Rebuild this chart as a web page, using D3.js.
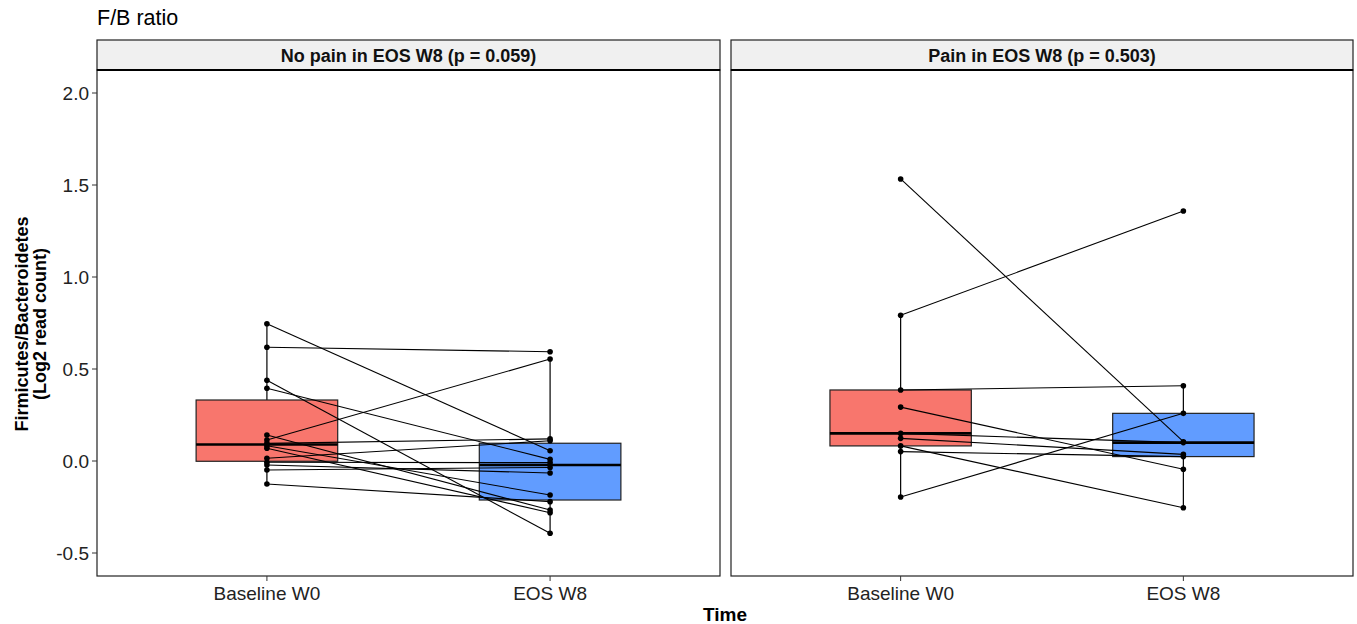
<!DOCTYPE html>
<html><head><meta charset="utf-8">
<script src="https://cdn.jsdelivr.net/npm/d3@7"></script>
<style>body{margin:0;background:#fff;} text{font-family:Arial,"Liberation Sans",sans-serif;}</style>
</head><body>
<svg id="chart" width="1357" height="624"></svg>
<script>
const timeLabels = ["Baseline W0", "EOS W8"];
const panelTitles = ["No pain in EOS W8 (p = 0.059)", "Pain in EOS W8 (p = 0.503)"];
const yTicks = [-0.5, 0.0, 0.5, 1.0, 1.5, 2.0];
// paired values (baseline, EOS W8) per subject
const noPainBaseline = [0.746, 0.618, 0.439, 0.395, 0.141, 0.114, 0.096, 0.083, 0.069, 0.015, -0.007, -0.022, -0.049, -0.125];
const noPainEOS      = [0.056, 0.594, -0.393, 0.009, -0.266, 0.554, 0.12, -0.185, -0.281, 0.11, -0.009, -0.065, -0.035, -0.221];
const painBaseline   = [1.533, 0.792, 0.386, 0.293, 0.150, 0.123, 0.082, 0.051, -0.196];
const painEOS        = [0.105, 1.359, 0.409, -0.045, 0.100, 0.036, -0.254, 0.024, 0.259];
const fillColors = ["#F8766D", "#619CFF"];

const svg = d3.select("#chart");
const plotTop = 70, plotBottom = 576;
const panels = [
  {x0: 97, x1: 720, title: panelTitles[0], base: noPainBaseline, eos: noPainEOS},
  {x0: 731, x1: 1353, title: panelTitles[1], base: painBaseline, eos: painEOS}
];
const y = d3.scaleLinear().domain([-0.625, 2.125]).range([plotBottom, plotTop]);

svg.append("text").attr("x", 97).attr("y", 25).attr("font-size", 21.5).attr("fill", "#000").text("F/B ratio");

function boxStats(vals) {
  const s = vals.slice().sort(d3.ascending);
  const q1 = d3.quantileSorted(s, 0.25), med = d3.quantileSorted(s, 0.5), q3 = d3.quantileSorted(s, 0.75);
  const iqr = q3 - q1;
  const lo = d3.min(s.filter(v => v >= q1 - 1.5 * iqr));
  const hi = d3.max(s.filter(v => v <= q3 + 1.5 * iqr));
  return {q1, med, q3, lo, hi};
}

panels.forEach((p, pi) => {
  const unit = (p.x1 - p.x0) / 2.2;
  const x = d3.scalePoint().domain(timeLabels).range([p.x0 + 0.6 * unit, p.x0 + 1.6 * unit]);
  const xpos = i => x(timeLabels[i]);
  const g = svg.append("g");
  // strip
  g.append("rect").attr("x", p.x0).attr("y", 40).attr("width", p.x1 - p.x0).attr("height", plotTop - 40)
    .attr("fill", "#f0f0f0").attr("stroke", "#222").attr("stroke-width", 1.2);
  g.append("text").attr("x", (p.x0 + p.x1) / 2).attr("y", 62).attr("text-anchor", "middle")
    .attr("font-size", 18).attr("font-weight", "bold").attr("fill", "#111").text(p.title);
  // boxes
  [p.base, p.eos].forEach((vals, i) => {
    const st = boxStats(vals);
    const cx = xpos(i), hw = unit * 0.25;
    g.append("line").attr("x1", cx).attr("x2", cx).attr("y1", y(st.q3)).attr("y2", y(st.hi)).attr("stroke", "#000").attr("stroke-width", 1.2);
    g.append("line").attr("x1", cx).attr("x2", cx).attr("y1", y(st.q1)).attr("y2", y(st.lo)).attr("stroke", "#000").attr("stroke-width", 1.2);
    g.append("rect").attr("x", cx - hw).attr("y", y(st.q3)).attr("width", 2 * hw).attr("height", y(st.q1) - y(st.q3))
      .attr("fill", fillColors[i]).attr("stroke", "#222").attr("stroke-width", 1.2);
    g.append("line").attr("x1", cx - hw).attr("x2", cx + hw).attr("y1", y(st.med)).attr("y2", y(st.med)).attr("stroke", "#000").attr("stroke-width", 2.6);
  });
  // paired lines
  p.base.forEach((b, k) => {
    g.append("line").attr("x1", xpos(0)).attr("y1", y(b)).attr("x2", xpos(1)).attr("y2", y(p.eos[k]))
      .attr("stroke", "#000").attr("stroke-width", 1.1);
  });
  [p.base, p.eos].forEach((vals, i) => {
    g.selectAll(null).data(vals).enter().append("circle")
      .attr("cx", xpos(i)).attr("cy", d => y(d)).attr("r", 2.8).attr("fill", "#000");
  });
  // panel border
  g.append("rect").attr("x", p.x0).attr("y", plotTop).attr("width", p.x1 - p.x0).attr("height", plotBottom - plotTop)
    .attr("fill", "none").attr("stroke", "#222").attr("stroke-width", 1.2);
  g.append("line").attr("x1", p.x0).attr("x2", p.x1).attr("y1", plotTop).attr("y2", plotTop).attr("stroke", "#000").attr("stroke-width", 2);
  // x ticks
  timeLabels.forEach((t, i) => {
    g.append("line").attr("x1", xpos(i)).attr("x2", xpos(i)).attr("y1", plotBottom).attr("y2", plotBottom + 5).attr("stroke", "#333");
    g.append("text").attr("x", xpos(i)).attr("y", plotBottom + 24).attr("text-anchor", "middle").attr("font-size", 19).attr("fill", "#222").text(t);
  });
  if (pi === 0) {
    yTicks.forEach(t => {
      g.append("line").attr("x1", p.x0 - 5).attr("x2", p.x0).attr("y1", y(t)).attr("y2", y(t)).attr("stroke", "#333");
      g.append("text").attr("x", p.x0 - 8).attr("y", y(t) + 7).attr("text-anchor", "end").attr("font-size", 19).attr("fill", "#222").text(t.toFixed(1));
    });
  }
});

svg.append("text").attr("x", 725).attr("y", 621).attr("text-anchor", "middle").attr("font-size", 19).attr("font-weight", "bold").text("Time");
const yt = svg.append("text").attr("transform", "translate(0,324) rotate(-90)").attr("text-anchor", "middle").attr("font-size", 18).attr("font-weight", "bold");
yt.append("tspan").attr("x", 0).attr("y", 28).text("Firmicutes/Bacteroidetes");
yt.append("tspan").attr("x", 0).attr("y", 46).text("(Log2 read count)");
</script>
</body></html>
